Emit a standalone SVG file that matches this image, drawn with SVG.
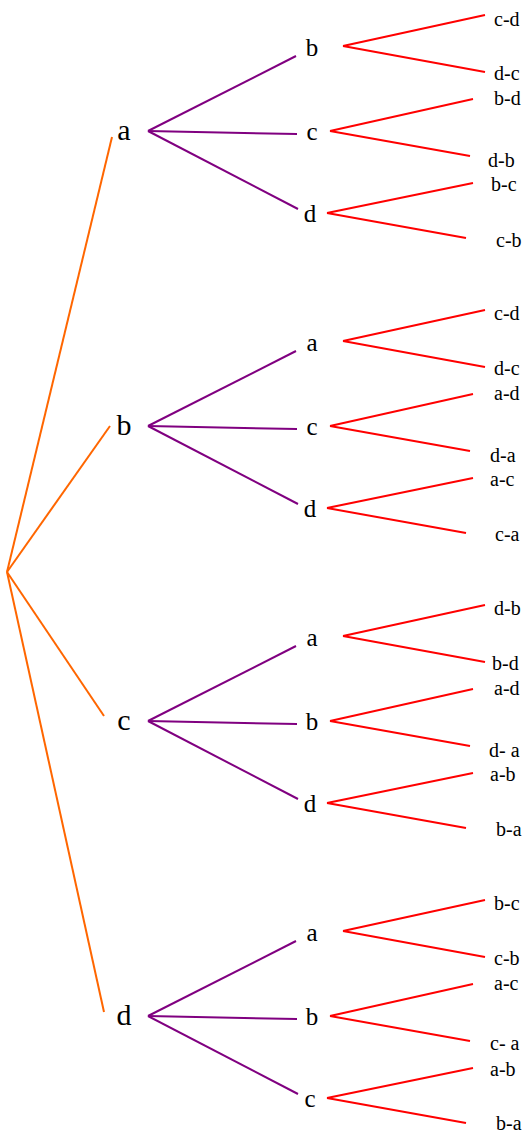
<svg xmlns="http://www.w3.org/2000/svg" width="526" height="1135" viewBox="0 0 526 1135">
<style>
text{font-family:'Liberation Serif','Times New Roman',serif;fill:#000}
.l1{font-size:30px;text-anchor:middle}
.l2{font-size:25px;text-anchor:middle}
.lf{font-size:20px}
.o{stroke:#FF6600;stroke-width:2;fill:none}
.p{stroke:#800080;stroke-width:2;fill:none}
.r{stroke:#FF0000;stroke-width:2;fill:none}
</style>
<rect width="526" height="1135" fill="#fff"/>
<defs>
<g id="blk">
<line class="p" x1="148" y1="131" x2="296" y2="56"/>
<line class="p" x1="148" y1="131" x2="297" y2="134"/>
<line class="p" x1="148" y1="131" x2="298" y2="209"/>
<line class="r" x1="343" y1="46" x2="485" y2="15"/>
<line class="r" x1="343" y1="46" x2="485" y2="72"/>
<line class="r" x1="330" y1="131" x2="473" y2="99"/>
<line class="r" x1="330" y1="131" x2="470" y2="156"/>
<line class="r" x1="327" y1="213" x2="473" y2="183"/>
<line class="r" x1="327" y1="213" x2="466" y2="238"/>
</g>
</defs>
<g id="connectors">
<line class="o" x1="7" y1="572" x2="112" y2="137"/>
<line class="o" x1="7" y1="572" x2="110" y2="426"/>
<line class="o" x1="7" y1="572" x2="104" y2="716"/>
<line class="o" x1="7" y1="572" x2="104" y2="1012"/>
<use href="#blk"/>
<use href="#blk" transform="translate(0,295)"/>
<use href="#blk" transform="translate(0,590)"/>
<use href="#blk" transform="translate(0,885)"/>
</g>
<g id="nodes">
<g id="n-a"><text class="l1" x="124" y="140">a</text></g>
<g id="n-ab"><text class="l2" x="312" y="56">b</text></g>
<g id="n-ac"><text class="l2" x="312" y="140">c</text></g>
<g id="n-ad"><text class="l2" x="310" y="222">d</text></g>
<g id="n-abcd"><text class="lf" x="494" y="26">c-d</text></g>
<g id="n-abdc"><text class="lf" x="494" y="80">d-c</text></g>
<g id="n-acbd"><text class="lf" x="494" y="105">b-d</text></g>
<g id="n-acdb"><text class="lf" x="488" y="167">d-b</text></g>
<g id="n-adbc"><text class="lf" x="491" y="191">b-c</text></g>
<g id="n-adcb"><text class="lf" x="496" y="247">c-b</text></g>
<g id="n-b"><text class="l1" x="124" y="435">b</text></g>
<g id="n-ba"><text class="l2" x="312" y="351">a</text></g>
<g id="n-bc"><text class="l2" x="312" y="435">c</text></g>
<g id="n-bd"><text class="l2" x="310" y="517">d</text></g>
<g id="n-bacd"><text class="lf" x="494" y="320">c-d</text></g>
<g id="n-badc"><text class="lf" x="494" y="375">d-c</text></g>
<g id="n-bcad"><text class="lf" x="494" y="400">a-d</text></g>
<g id="n-bcda"><text class="lf" x="490" y="462">d-a</text></g>
<g id="n-bdac"><text class="lf" x="490" y="486">a-c</text></g>
<g id="n-bdca"><text class="lf" x="495" y="541">c-a</text></g>
<g id="n-c"><text class="l1" x="124" y="730">c</text></g>
<g id="n-ca"><text class="l2" x="312" y="646">a</text></g>
<g id="n-cb"><text class="l2" x="312" y="730">b</text></g>
<g id="n-cd"><text class="l2" x="310" y="812">d</text></g>
<g id="n-cadb"><text class="lf" x="494" y="615">d-b</text></g>
<g id="n-cabd"><text class="lf" x="492" y="670">b-d</text></g>
<g id="n-cbad"><text class="lf" x="494" y="695">a-d</text></g>
<g id="n-cbda"><text class="lf" x="489" y="757">d- a</text></g>
<g id="n-cdab"><text class="lf" x="490" y="781">a-b</text></g>
<g id="n-cdba"><text class="lf" x="496" y="836">b-a</text></g>
<g id="n-d"><text class="l1" x="124" y="1025">d</text></g>
<g id="n-da"><text class="l2" x="312" y="941">a</text></g>
<g id="n-db"><text class="l2" x="312" y="1025">b</text></g>
<g id="n-dc"><text class="l2" x="310" y="1107">c</text></g>
<g id="n-dabc"><text class="lf" x="494" y="910">b-c</text></g>
<g id="n-dacb"><text class="lf" x="494" y="965">c-b</text></g>
<g id="n-dbac"><text class="lf" x="494" y="990">a-c</text></g>
<g id="n-dbca"><text class="lf" x="490" y="1050">c- a</text></g>
<g id="n-dcab"><text class="lf" x="490" y="1076">a-b</text></g>
<g id="n-dcba"><text class="lf" x="496" y="1130">b-a</text></g>
</g>
</svg>
